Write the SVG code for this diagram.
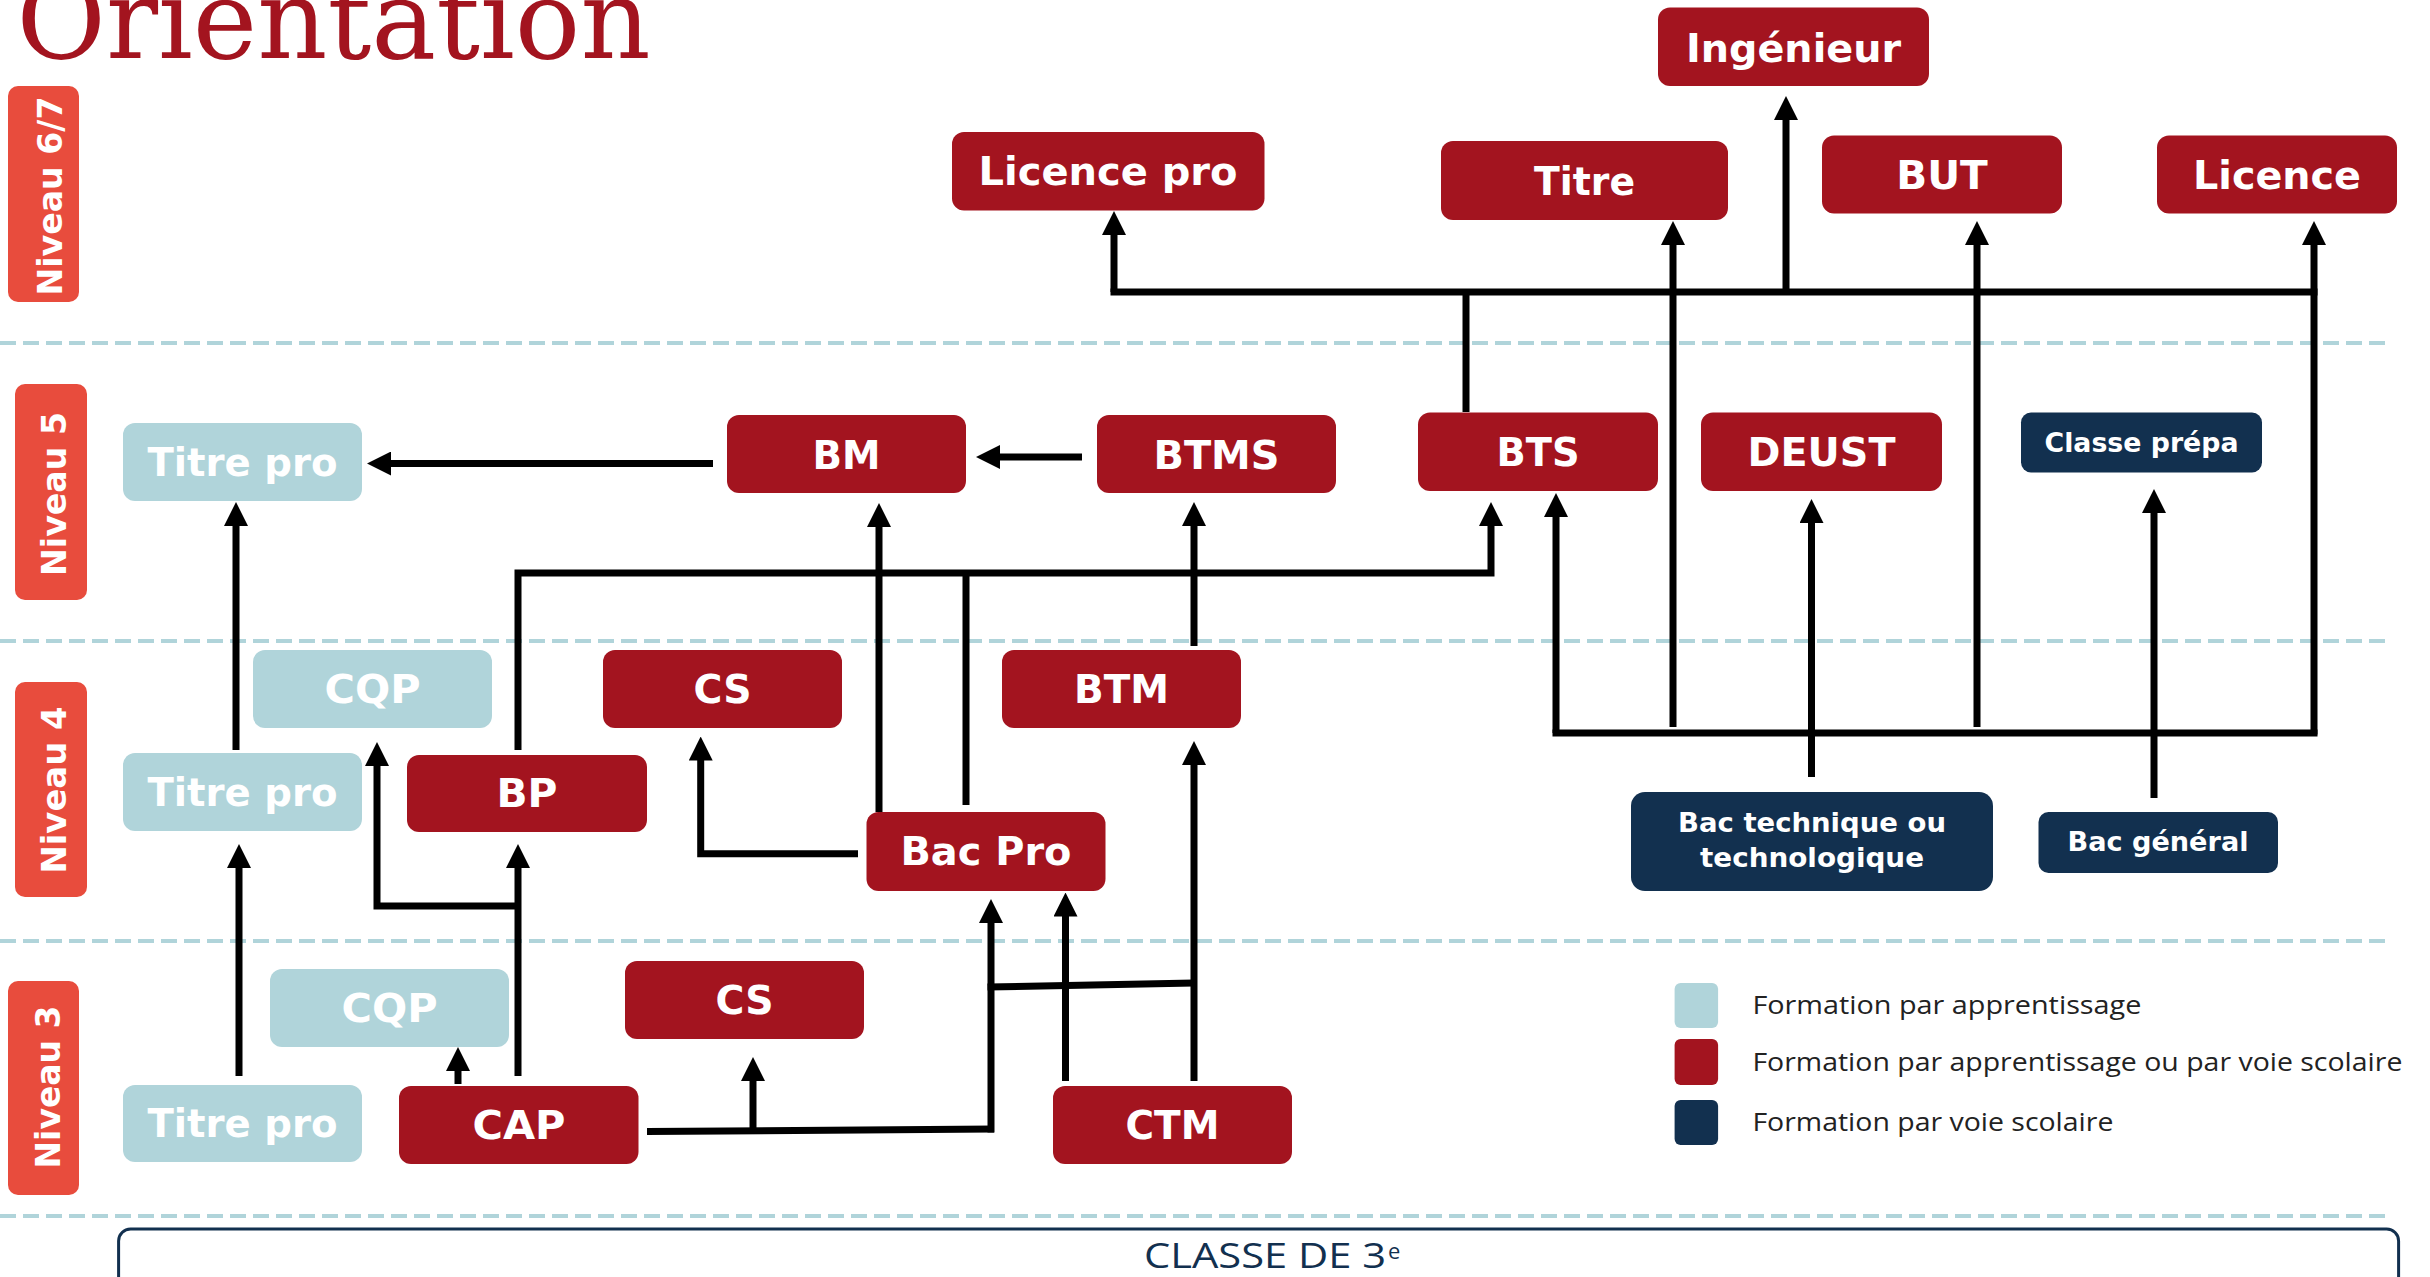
<svg xmlns="http://www.w3.org/2000/svg" width="2430" height="1277" viewBox="0 0 2430 1277">
<style>
.red{fill:#a3141f}
.blue{fill:#b0d4da}
.navy{fill:#12304f}
.lvl{fill:#e84c3d}
.t{font-family:"DejaVu Sans","Liberation Sans",sans-serif;font-weight:bold;font-size:39px;fill:#fff;text-anchor:middle}
.ts{font-family:"DejaVu Sans","Liberation Sans",sans-serif;font-weight:bold;font-size:27px;fill:#fff;text-anchor:middle}
.lt{font-family:"DejaVu Sans","Liberation Sans",sans-serif;font-weight:bold;font-size:34px;fill:#fff;text-anchor:middle}
.leg{font-family:"Open Sans","DejaVu Sans",sans-serif;font-size:25px;fill:#222}
.dash{stroke:#b0d4da;stroke-width:4;stroke-dasharray:16 7;fill:none}
</style>
<defs>
<marker id="ah" markerUnits="userSpaceOnUse" markerWidth="24" markerHeight="24" viewBox="0 0 24 24" refX="12" refY="12" orient="auto"><path d="M0,0 L24,12 L0,24 z" fill="#000"/></marker>
</defs>
<rect width="2430" height="1277" fill="#fff"/>
<text x="16.6" y="58" font-family="'DejaVu Serif','Liberation Serif',serif" font-size="110" fill="#a3141f" textLength="634" lengthAdjust="spacingAndGlyphs">Orientation</text>
<g id="grid">
<line class="dash" x1="0" y1="343" x2="2388" y2="343"/>
<line class="dash" x1="0" y1="641" x2="2388" y2="641"/>
<line class="dash" x1="0" y1="941" x2="2388" y2="941"/>
<line class="dash" x1="0" y1="1216" x2="2388" y2="1216"/>
</g>
<g id="levels">
<g id="lvl67"><rect class="lvl" x="8" y="86" width="71" height="216" rx="10"/><text class="lt" transform="translate(62,196) rotate(-90)" textLength="199" lengthAdjust="spacingAndGlyphs">Niveau 6/7</text></g>
<g id="lvl5"><rect class="lvl" x="15" y="384" width="72" height="216" rx="10"/><text class="lt" transform="translate(66,494) rotate(-90)" textLength="164" lengthAdjust="spacingAndGlyphs">Niveau 5</text></g>
<g id="lvl4"><rect class="lvl" x="15" y="682" width="72" height="215" rx="10"/><text class="lt" transform="translate(66,790) rotate(-90)" textLength="167" lengthAdjust="spacingAndGlyphs">Niveau 4</text></g>
<g id="lvl3"><rect class="lvl" x="8" y="981" width="71" height="214" rx="10"/><text class="lt" transform="translate(60,1087) rotate(-90)" textLength="163" lengthAdjust="spacingAndGlyphs">Niveau 3</text></g>
</g>
<g id="connectors" fill="none" stroke="#000" stroke-width="7">
<path d="M713,463.5 H379" marker-end="url(#ah)"/>
<path d="M1082,457 H988" marker-end="url(#ah)"/>
<path d="M1110.5,292 H2317.5"/>
<path d="M1114,292 V223" marker-end="url(#ah)"/>
<path d="M1786,292 V108" marker-end="url(#ah)"/>
<path d="M1466,412 V292"/>
<path d="M1673,727 V233" marker-end="url(#ah)"/>
<path d="M1977,727 V233" marker-end="url(#ah)"/>
<path d="M2314,734.5 V233" marker-end="url(#ah)"/>
<path d="M1552.5,733 H2317.5"/>
<path d="M1556,733 V505" marker-end="url(#ah)"/>
<path d="M1811.5,777 V511" marker-end="url(#ah)"/>
<path d="M2154,798 V501" marker-end="url(#ah)"/>
<path d="M518,750 V573 H1491 V514" marker-end="url(#ah)"/>
<path d="M966,805 V573"/>
<path d="M879,812 V515" marker-end="url(#ah)"/>
<path d="M1194,646 V514" marker-end="url(#ah)"/>
<path d="M236,750 V514" marker-end="url(#ah)"/>
<path d="M239,1076 V856" marker-end="url(#ah)"/>
<path d="M518,1076 V856" marker-end="url(#ah)"/>
<path d="M518,906 H377 V754" marker-end="url(#ah)"/>
<path d="M458,1084 V1059" marker-end="url(#ah)"/>
<path d="M647,1131.5 L994,1129"/>
<path d="M753,1130 V1069" marker-end="url(#ah)"/>
<path d="M991,1132.5 V911" marker-end="url(#ah)"/>
<path d="M1065.5,1081 V904.5" marker-end="url(#ah)"/>
<path d="M1194,1081 V753" marker-end="url(#ah)"/>
<path d="M987.5,987 L1194,983"/>
<path d="M858,853.7 H700.7 V748.5" marker-end="url(#ah)"/>
</g>
<g id="n-ingenieur"><rect class="red" x="1658" y="7.5" width="271" height="78.5" rx="12"/><text class="t" x="1793.5" y="62" textLength="215" lengthAdjust="spacingAndGlyphs">Ingénieur</text></g>
<g id="n-licencepro"><rect class="red" x="952" y="132" width="312.5" height="78.5" rx="12"/><text class="t" x="1108" y="185" textLength="259" lengthAdjust="spacingAndGlyphs">Licence pro</text></g>
<g id="n-titre"><rect class="red" x="1441" y="141" width="287" height="79" rx="12"/><text class="t" x="1584.5" y="195" textLength="101" lengthAdjust="spacingAndGlyphs">Titre</text></g>
<g id="n-but"><rect class="red" x="1822" y="135.5" width="240" height="78" rx="12"/><text class="t" x="1942" y="189" textLength="91.5" lengthAdjust="spacingAndGlyphs">BUT</text></g>
<g id="n-licence"><rect class="red" x="2157" y="135.5" width="240" height="78" rx="12"/><text class="t" x="2277" y="189" textLength="168" lengthAdjust="spacingAndGlyphs">Licence</text></g>
<g id="n-titrepro5"><rect class="blue" x="123" y="423" width="239" height="78" rx="12"/><text class="t" x="242.5" y="476" textLength="190" lengthAdjust="spacingAndGlyphs">Titre pro</text></g>
<g id="n-bm"><rect class="red" x="727" y="415" width="239" height="78" rx="12"/><text class="t" x="846.5" y="468.5" textLength="68" lengthAdjust="spacingAndGlyphs">BM</text></g>
<g id="n-btms"><rect class="red" x="1097" y="415" width="239" height="78" rx="12"/><text class="t" x="1216.5" y="468.5" textLength="126" lengthAdjust="spacingAndGlyphs">BTMS</text></g>
<g id="n-bts"><rect class="red" x="1418" y="412.5" width="240" height="78.5" rx="12"/><text class="t" x="1538" y="466" textLength="83" lengthAdjust="spacingAndGlyphs">BTS</text></g>
<g id="n-deust"><rect class="red" x="1701" y="412.5" width="241" height="78.5" rx="12"/><text class="t" x="1821.5" y="466" textLength="148" lengthAdjust="spacingAndGlyphs">DEUST</text></g>
<g id="n-prepa"><rect class="navy" x="2021" y="412.5" width="241" height="60" rx="10"/><text class="ts" x="2141.5" y="452" textLength="194" lengthAdjust="spacingAndGlyphs">Classe prépa</text></g>
<g id="n-cqp4"><rect class="blue" x="253" y="650" width="239" height="78" rx="12"/><text class="t" x="372.5" y="703" textLength="96" lengthAdjust="spacingAndGlyphs">CQP</text></g>
<g id="n-cs4"><rect class="red" x="603" y="650" width="239" height="78" rx="12"/><text class="t" x="722.5" y="703" textLength="58" lengthAdjust="spacingAndGlyphs">CS</text></g>
<g id="n-btm"><rect class="red" x="1002" y="650" width="239" height="78" rx="12"/><text class="t" x="1121.5" y="703" textLength="95" lengthAdjust="spacingAndGlyphs">BTM</text></g>
<g id="n-titrepro4"><rect class="blue" x="123" y="753" width="239" height="78" rx="12"/><text class="t" x="242.5" y="806" textLength="190" lengthAdjust="spacingAndGlyphs">Titre pro</text></g>
<g id="n-bp"><rect class="red" x="407" y="755" width="240" height="77" rx="12"/><text class="t" x="527" y="807" textLength="61" lengthAdjust="spacingAndGlyphs">BP</text></g>
<g id="n-bacpro"><rect class="red" x="866.5" y="812" width="239" height="79" rx="12"/><text class="t" x="986" y="865" textLength="171" lengthAdjust="spacingAndGlyphs">Bac Pro</text></g>
<g id="n-bactech"><rect class="navy" x="1631" y="792" width="362" height="99" rx="14"/><text class="ts" x="1812" y="832" textLength="268" lengthAdjust="spacingAndGlyphs">Bac technique ou</text><text class="ts" x="1812" y="867" textLength="224" lengthAdjust="spacingAndGlyphs">technologique</text></g>
<g id="n-bacgen"><rect class="navy" x="2038.5" y="812" width="239.5" height="61" rx="10"/><text class="ts" x="2158" y="851" textLength="181" lengthAdjust="spacingAndGlyphs">Bac général</text></g>
<g id="n-cqp3"><rect class="blue" x="270" y="969" width="239" height="78" rx="12"/><text class="t" x="389.5" y="1022" textLength="96" lengthAdjust="spacingAndGlyphs">CQP</text></g>
<g id="n-cs3"><rect class="red" x="625" y="961" width="239" height="78" rx="12"/><text class="t" x="744.5" y="1014" textLength="58" lengthAdjust="spacingAndGlyphs">CS</text></g>
<g id="n-titrepro3"><rect class="blue" x="123" y="1085" width="239" height="77" rx="12"/><text class="t" x="242.5" y="1137" textLength="190" lengthAdjust="spacingAndGlyphs">Titre pro</text></g>
<g id="n-cap"><rect class="red" x="399" y="1086" width="239.5" height="78" rx="12"/><text class="t" x="519" y="1139" textLength="93" lengthAdjust="spacingAndGlyphs">CAP</text></g>
<g id="n-ctm"><rect class="red" x="1053" y="1086" width="239" height="78" rx="12"/><text class="t" x="1172.5" y="1139" textLength="94" lengthAdjust="spacingAndGlyphs">CTM</text></g>
<g id="legend">
<rect class="blue" x="1674.6" y="983" width="43.5" height="45" rx="6"/>
<rect class="red" x="1674.6" y="1039" width="43.5" height="46" rx="6"/>
<rect class="navy" x="1674.6" y="1100" width="43.5" height="45" rx="6"/>
<text class="leg" x="1752.4" y="1014" textLength="389" lengthAdjust="spacingAndGlyphs">Formation par apprentissage</text>
<text class="leg" x="1752.4" y="1071" textLength="650" lengthAdjust="spacingAndGlyphs">Formation par apprentissage ou par voie scolaire</text>
<text class="leg" x="1752.4" y="1131" textLength="361" lengthAdjust="spacingAndGlyphs">Formation par voie scolaire</text>
</g>
<g id="n-classe3">
<rect x="118.6" y="1229" width="2280" height="100" rx="12" fill="#fff" stroke="#12304f" stroke-width="3"/>
<text x="1144" y="1268" font-family="'Open Sans','DejaVu Sans',sans-serif" font-size="34" fill="#12304f" textLength="242" lengthAdjust="spacingAndGlyphs">CLASSE DE 3</text>
<text x="1388" y="1259" font-family="'Open Sans','DejaVu Sans',sans-serif" font-size="22" fill="#12304f">e</text>
</g>
</svg>
